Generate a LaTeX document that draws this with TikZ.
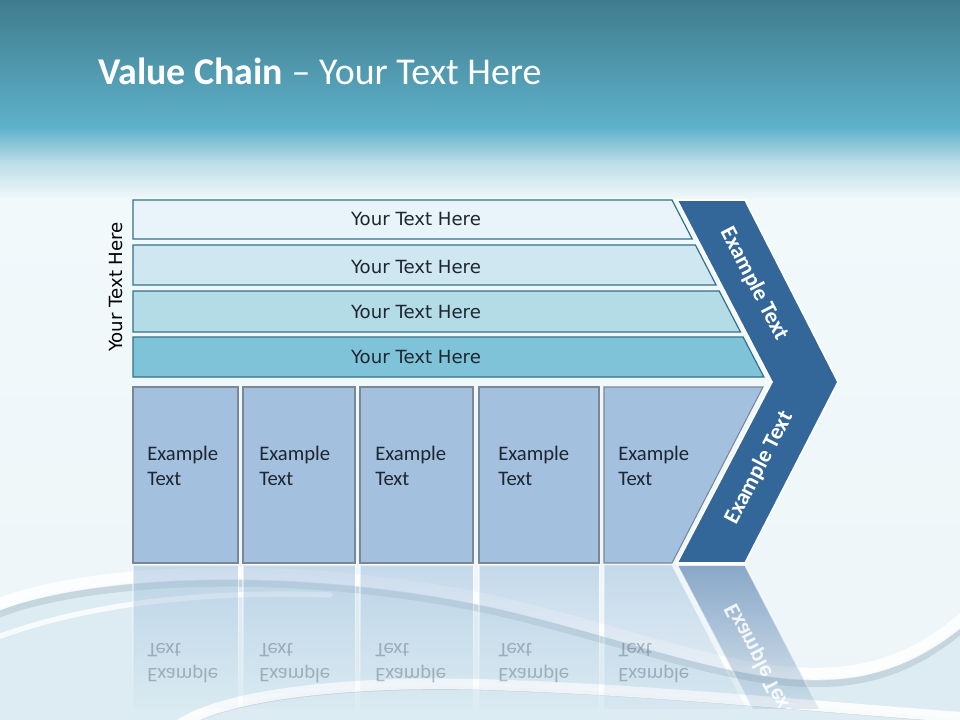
\documentclass[tikz,border=0pt]{standalone}
\usepackage{fontspec}
\setmainfont{Carlito}
\newfontfamily\barfont{DejaVu Sans}
\usetikzlibrary{fadings}
\definecolor{bgA}{HTML}{417C8E}
\definecolor{bgB}{HTML}{5EB2CB}
\definecolor{bgC}{HTML}{B9DCE7}
\definecolor{bgD}{HTML}{F2F9FB}
\definecolor{bgE}{HTML}{EDF5F8}
\definecolor{barA}{HTML}{E8F4F9}
\definecolor{barB}{HTML}{CFE7F0}
\definecolor{barC}{HTML}{B3DCE7}
\definecolor{barD}{HTML}{7FC3D8}
\definecolor{barline}{HTML}{33718A}
\definecolor{boxfill}{HTML}{A3C1DF}
\definecolor{boxline}{HTML}{7B8794}
\definecolor{chev}{HTML}{336699}
\definecolor{chevrefl}{HTML}{6F93BB}
\definecolor{txtdark}{HTML}{1E2630}
\definecolor{wavegrey}{HTML}{A9BCC6}
\definecolor{waveblue}{HTML}{CFE5EE}
\tikzfading[name=reflfade, top color=transparent!45, bottom color=transparent!100]
\tikzfading[name=reflfadeB, top color=transparent!20, bottom color=transparent!100]
\begin{document}
\begin{tikzpicture}[x=0.75pt,y=-0.75pt,
  barshape/.style={draw=barline, line width=0.9pt},
  boxshape/.style={draw=boxline, fill=boxfill, line width=0.8pt},
  bartext/.style={font=\barfont\fontsize{13.6}{16}\selectfont, text=txtdark, inner sep=0pt},
  boxtext/.style={font=\fontsize{15.5}{19}\selectfont, text=txtdark, inner sep=0pt, anchor=base west},
  reflbox/.style={fill=boxfill, draw=white, line width=0.8pt, path fading=reflfade},
  refltext/.style={font=\fontsize{15.5}{19}\selectfont, text=txtdark, opacity=0.28, inner sep=0pt, anchor=base west, yscale=-1},
  chevtext/.style={font=\bfseries\fontsize{17}{20}\selectfont, text=white, inner sep=0pt},
  wave/.style={line cap=round}
]
\useasboundingbox (0,0) rectangle (960,720);
% ---------- background ----------
\shade[top color=bgA, bottom color=bgB] (0,0) rectangle (960,129);
\shade[top color=bgB, bottom color=bgC] (0,128) rectangle (960,162);
\shade[top color=bgC, bottom color=bgD] (0,161) rectangle (960,200);
\shade[top color=bgD, bottom color=bgE] (0,199) rectangle (960,720);
% ---------- waves ----------
\fill[waveblue, opacity=0.55] (-10,612) .. controls (80,572) and (300,562) .. (500,607)
   .. controls (650,642) and (760,692) .. (860,674) .. controls (910,664) and (940,642) .. (970,617)
   -- (970,730) -- (-10,730) -- cycle;
\draw[wave, wavegrey, line width=5pt, opacity=0.45] (-10,618) .. controls (80,578) and (300,568) .. (500,613)
   .. controls (650,648) and (760,698) .. (860,680) .. controls (910,670) and (940,648) .. (970,623);
\draw[wave, white, line width=9pt, opacity=0.85] (-10,608) .. controls (80,568) and (300,558) .. (500,603)
   .. controls (650,638) and (760,688) .. (860,670) .. controls (910,660) and (940,638) .. (970,613);
\draw[wave, white, line width=4pt, opacity=0.8] (-10,640) .. controls (80,605) and (200,590) .. (330,595);
\draw[wave, wavegrey, line width=3pt, opacity=0.45] (182,728) .. controls (232,694) and (382,684) .. (502,689)
   .. controls (652,694) and (802,709) .. (970,722);
\draw[wave, white, line width=8pt, opacity=0.9] (178,726) .. controls (228,690) and (378,680) .. (498,685)
   .. controls (648,690) and (798,705) .. (970,718);
% ---------- reflections ----------
\begin{scope}
\clip (0,564) rectangle (960,708);
\path[reflbox] (133,565) rectangle (238,720);
\path[reflbox] (243,565) rectangle (355,720);
\path[reflbox] (360,565) rectangle (473,720);
\path[reflbox] (479,565) rectangle (599,720);
\path[reflbox] (604,565) -- (672,565) -- (763,741) -- (604,741) -- cycle;
\path[fill=chevrefl, draw=white, line width=1.2pt, path fading=reflfadeB]
   (677,565) -- (745,565) -- (838,746) -- (772,746) -- cycle;
\node[refltext] (re1) at (147,668) {Example};
\node[refltext] (rt1) at (147,643) {Text};
\node[refltext] (re2) at (259,668) {Example};
\node[refltext] (rt2) at (259,643) {Text};
\node[refltext] (re3) at (375,668) {Example};
\node[refltext] (rt3) at (375,643) {Text};
\node[refltext] (re4) at (498,668) {Example};
\node[refltext] (rt4) at (498,643) {Text};
\node[refltext] (re5) at (618,668) {Example};
\node[refltext] (rt5) at (618,643) {Text};
\node[chevtext, opacity=0.85, yscale=-1, rotate=62.6] (rchev) at (759,660) {Example Text};
\end{scope}
% ---------- title ----------
\node[anchor=base west, inner sep=0pt, text=white, font=\fontsize{28.4}{33}\selectfont] (title) at (98,85)
   {\textbf{Value Chain} – Your Text Here};
% ---------- bars ----------
\path[barshape, fill=barA] (133,200) -- (672,200) -- (692.2,239) -- (133,239) -- cycle;
\path[barshape, fill=barB] (133,245) -- (695.4,245) -- (716.1,285) -- (133,285) -- cycle;
\path[barshape, fill=barC] (133,291) -- (719.2,291) -- (740.5,332) -- (133,332) -- cycle;
\path[barshape, fill=barD] (133,337) -- (743.1,337) -- (763.9,377) -- (133,377) -- cycle;
\node[bartext] (b1) at (416,219) {Your Text Here};
\node[bartext] (b2) at (416,267) {Your Text Here};
\node[bartext] (b3) at (416,312) {Your Text Here};
\node[bartext] (b4) at (416,357) {Your Text Here};
\node[bartext, text=black, rotate=90] (side) at (116,287) {Your Text Here};
% ---------- lower boxes ----------
\path[boxshape] (133,387) rectangle (238,563);
\path[boxshape] (243,387) rectangle (355,563);
\path[boxshape] (360,387) rectangle (473,563);
\path[boxshape] (479,387) rectangle (599,563);
\path[boxshape] (604,387) -- (763,387) -- (672,563) -- (604,563) -- cycle;
\node[boxtext] (e1) at (147,460) {Example};
\node[boxtext] (x1) at (147,485) {Text};
\node[boxtext] (e2) at (259,460) {Example};
\node[boxtext] (x2) at (259,485) {Text};
\node[boxtext] (e3) at (375,460) {Example};
\node[boxtext] (x3) at (375,485) {Text};
\node[boxtext] (e4) at (498,460) {Example};
\node[boxtext] (x4) at (498,485) {Text};
\node[boxtext] (e5) at (618,460) {Example};
\node[boxtext] (x5) at (618,485) {Text};
% ---------- chevron ----------
\path[fill=chev, draw=white, line width=1.2pt]
  (677,200) -- (745,200) -- (838,382) -- (745,563) -- (677,563) -- (772,382) -- cycle;
\node[chevtext, rotate=-62.6] (c1) at (754,284) {Example Text};
\node[chevtext, rotate=62.6] (c2) at (759,468) {Example Text};
\end{tikzpicture}
\end{document}
